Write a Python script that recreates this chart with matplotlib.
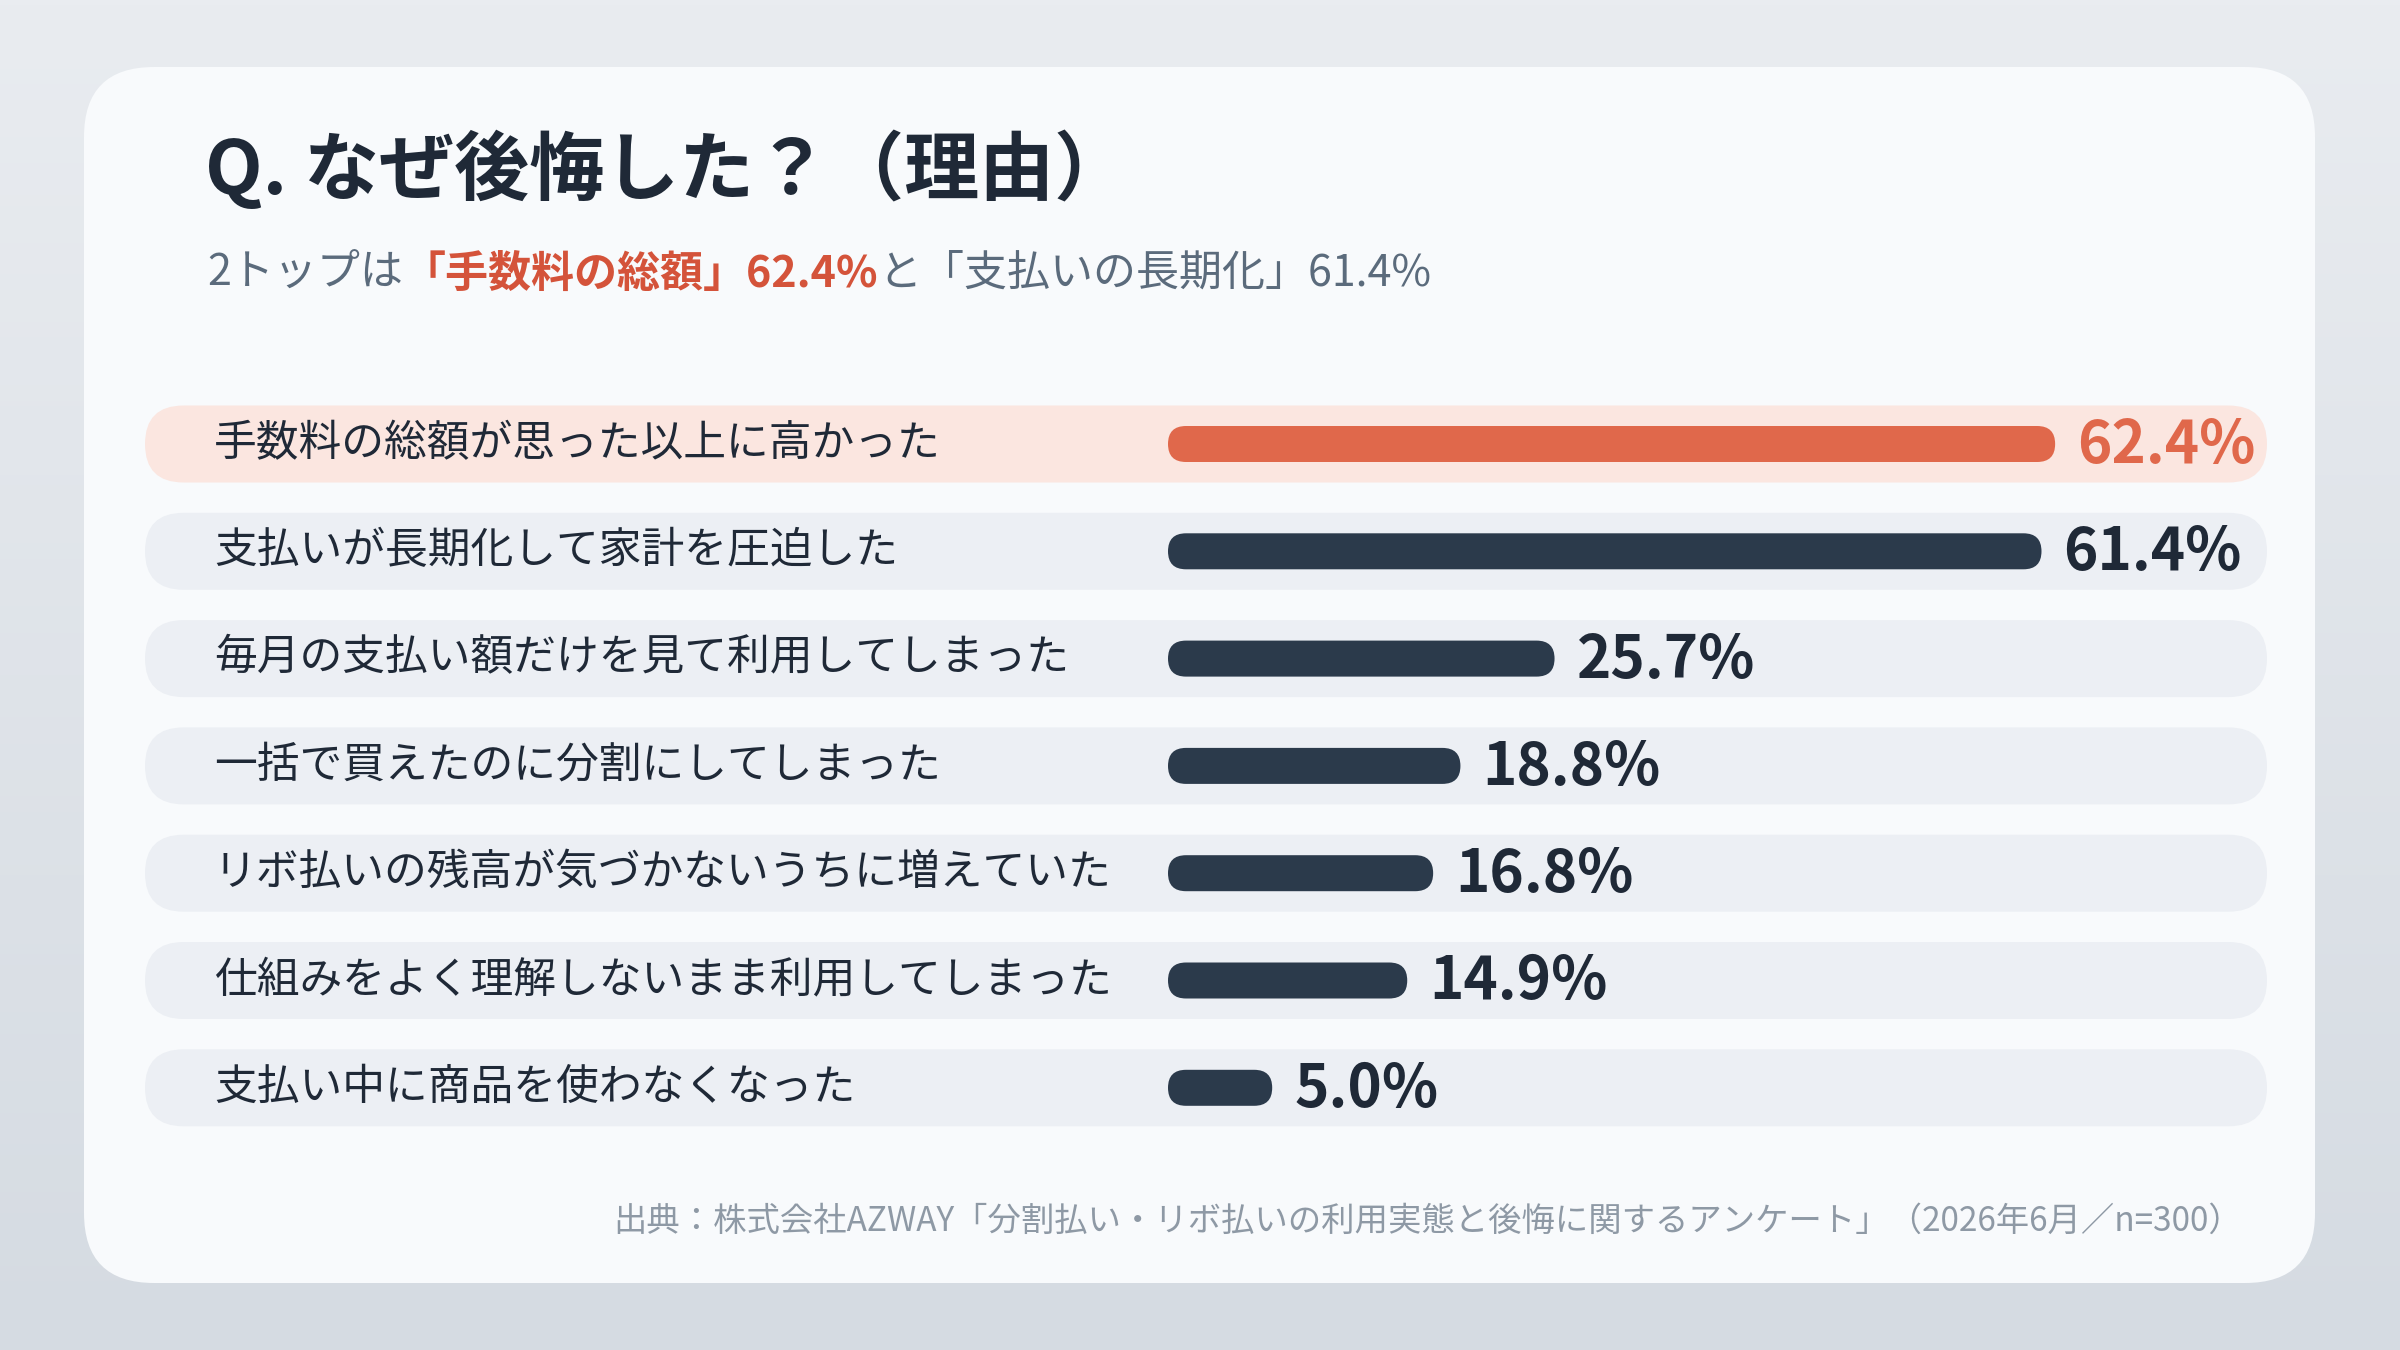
import numpy as np
import matplotlib
matplotlib.use("Agg")
import matplotlib.pyplot as plt
from matplotlib.patches import FancyBboxPatch

plt.rcParams['font.family'] = ['Noto Sans CJK JP', 'DejaVu Sans']

# data
reasons = [
    "手数料の総額が思った以上に高かった",
    "支払いが長期化して家計を圧迫した",
    "毎月の支払い額だけを見て利用してしまった",
    "一括で買えたのに分割にしてしまった",
    "リボ払いの残高が気づかないうちに増えていた",
    "仕組みをよく理解しないまま利用してしまった",
    "支払い中に商品を使わなくなった",
]
shares = [62.4, 61.4, 25.7, 18.8, 16.8, 14.9, 5.0]
highlight = [True, False, False, False, False, False, False]

title = "Q. なぜ後悔した？（理由）"
subtitle_parts = [
    ("2トップは", False),
    ("「手数料の総額」62.4%", True),
    ("と「支払いの長期化」61.4%", False),
]
source = "出典：株式会社AZWAY「分割払い・リボ払いの利用実態と後悔に関するアンケート」（2026年6月／n=300）"

# colours
DARK = "#1f2937"
BAR_DARK = "#2b3a4b"
ORANGE = "#e0684b"
RED_TXT = "#d4533a"
GREY = "#5b6b7c"
ROW_BG = "#eceff4"
ROW_HL = "#fbe6e0"
CARD = "#f8fafc"

W, H = 2400, 1350
fig = plt.figure(figsize=(24, 13.5), dpi=100)
ax = fig.add_axes([0, 0, 1, 1])
ax.set_xlim(0, W)
ax.set_ylim(H, 0)
ax.axis("off")

# background gradient
top = np.array([0xe9, 0xec, 0xf0]) / 255
bot = np.array([0xd5, 0xdb, 0xe2]) / 255
t = np.linspace(0, 1, 256)[:, None, None]
grad = top * (1 - t) + bot * t
ax.imshow(np.repeat(grad, 4, axis=1), extent=[0, W, H, 0], aspect="auto", zorder=0)

# card
card = FancyBboxPatch((84, 67), 2315 - 84, 1283 - 67,
                      boxstyle="round,pad=0,rounding_size=70",
                      fc=CARD, ec="none", zorder=1)
ax.add_patch(card)

# title / subtitle
ax.text(205, 170, title, fontsize=54, fontweight="bold", color=DARK,
        va="center", ha="left", zorder=5)

fig.canvas.draw()
renderer = fig.canvas.get_renderer()
x = 207
for txt, hl in subtitle_parts:
    t_ = ax.text(x, 274, txt, fontsize=31, color=RED_TXT if hl else GREY,
                 fontweight="bold" if hl else "normal", va="center", ha="left", zorder=5)
    bb = t_.get_window_extent(renderer=renderer)
    x += bb.width

# rows
row0 = 444
row_step = 107.3
row_h = 77
bar_x0 = 1168
bar_h = 36
px_per_pct = 13.64

for i, (lab, v, hl) in enumerate(zip(reasons, shares, highlight)):
    yc = row0 + i * row_step
    ax.add_patch(FancyBboxPatch((145, yc - row_h / 2), 2267 - 145, row_h,
                                boxstyle=f"round,pad=0,rounding_size={row_h/2}",
                                fc=ROW_HL if hl else ROW_BG, ec="none", zorder=2))
    ax.text(214, yc, lab, fontsize=30.8, color=DARK, va="center", ha="left", zorder=5)
    length = bar_h + v * px_per_pct
    ax.add_patch(FancyBboxPatch((bar_x0, yc - bar_h / 2), length, bar_h,
                                boxstyle=f"round,pad=0,rounding_size={bar_h/2}",
                                fc=ORANGE if hl else BAR_DARK, ec="none", zorder=3))
    ax.text(bar_x0 + length + 22, yc + 2, f"{v:.1f}%", fontsize=42, fontweight="bold",
            color=ORANGE if hl else DARK, va="center", ha="left", zorder=5)

# source
ax.text(2242, 1221, source, fontsize=24, color="#8e99a5", va="center", ha="right", zorder=5)

fig.savefig("out.png", dpi=100)
